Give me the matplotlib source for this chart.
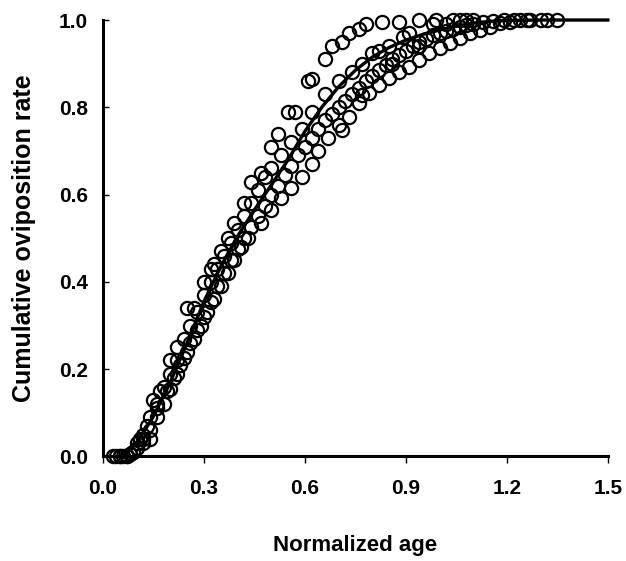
import matplotlib
matplotlib.use("Agg")
import matplotlib.pyplot as plt

plt.rcParams['font.family'] = ['Liberation Sans', 'DejaVu Sans']
plt.rcParams['font.weight'] = 'bold'

# fast-laying group
fast_x = [0.05, 0.07, 0.09, 0.11, 0.13, 0.15, 0.17, 0.20, 0.22, 0.25, 0.27, 0.30,
          0.32, 0.33, 0.35, 0.37, 0.39, 0.42, 0.44, 0.47, 0.50, 0.52, 0.55, 0.57,
          0.61, 0.62, 0.66, 0.68, 0.71, 0.73, 0.76, 0.78, 0.83, 0.88, 0.94, 0.99,
          1.04, 1.08]
fast_y = [0.00, 0.00, 0.01, 0.04, 0.07, 0.13, 0.15, 0.22, 0.25, 0.34, 0.34, 0.40,
          0.43, 0.44, 0.47, 0.50, 0.535, 0.58, 0.63, 0.65, 0.71, 0.74, 0.79, 0.79,
          0.86, 0.865, 0.91, 0.94, 0.95, 0.97, 0.98, 0.99, 0.995, 0.995, 1.00, 1.00,
          1.00, 1.00]

# middle group (above curve at the top)
mid_x = [0.04, 0.06, 0.08, 0.10, 0.12, 0.14, 0.16, 0.18, 0.20, 0.22, 0.24, 0.26,
         0.28, 0.30, 0.32, 0.34, 0.36, 0.38, 0.40, 0.42, 0.44, 0.46, 0.48, 0.50,
         0.53, 0.56, 0.59, 0.62, 0.66, 0.70, 0.74, 0.77, 0.80, 0.82, 0.85, 0.86,
         0.89, 0.91, 0.94, 0.98, 1.02, 1.06, 1.10]
mid_y = [0.00, 0.00, 0.005, 0.03, 0.05, 0.09, 0.12, 0.16, 0.19, 0.22, 0.27, 0.30,
         0.33, 0.37, 0.40, 0.43, 0.46, 0.49, 0.52, 0.55, 0.58, 0.61, 0.64, 0.66,
         0.69, 0.72, 0.75, 0.79, 0.83, 0.86, 0.88, 0.90, 0.925, 0.93, 0.94, 0.90,
         0.96, 0.97, 0.94, 0.99, 0.99, 1.00, 1.00]

# middle group (just below curve)
mid2_x = [0.05, 0.08, 0.10, 0.12, 0.14, 0.16, 0.18, 0.20, 0.22, 0.24, 0.26, 0.28,
          0.30, 0.32, 0.34, 0.36, 0.38, 0.40, 0.42, 0.44, 0.46, 0.48, 0.50, 0.52,
          0.54, 0.56, 0.58, 0.60, 0.62, 0.64, 0.66, 0.68, 0.70, 0.72, 0.74, 0.76,
          0.78, 0.80, 0.82, 0.84, 0.86, 0.88, 0.90, 0.92, 0.94, 0.96, 0.98, 1.00,
          1.02, 1.04, 1.06, 1.08, 1.10, 1.13, 1.16, 1.19, 1.22, 1.26]
mid2_y = [0.00, 0.005, 0.02, 0.04, 0.06, 0.09, 0.12, 0.155, 0.19, 0.225, 0.26, 0.29,
          0.32, 0.355, 0.39, 0.42, 0.45, 0.475, 0.50, 0.525, 0.55, 0.575, 0.60, 0.62,
          0.645, 0.665, 0.69, 0.71, 0.73, 0.75, 0.77, 0.785, 0.80, 0.815, 0.83, 0.845,
          0.86, 0.872, 0.885, 0.897, 0.91, 0.92, 0.93, 0.94, 0.95, 0.957, 0.965, 0.97,
          0.975, 0.98, 0.985, 0.988, 0.99, 0.995, 0.997, 1.00, 1.00, 1.00]

# slow group
slow_x = [0.03, 0.07, 0.09, 0.12, 0.14, 0.16, 0.19, 0.21, 0.23, 0.25, 0.27, 0.29,
          0.31, 0.33, 0.35, 0.37, 0.39, 0.41, 0.43, 0.47, 0.50, 0.53, 0.56, 0.59,
          0.62, 0.64, 0.67, 0.70, 0.71, 0.73, 0.76, 0.77, 0.79, 0.82, 0.85, 0.88,
          0.91, 0.94, 0.97, 1.00, 1.03, 1.06, 1.09, 1.12, 1.15, 1.18, 1.21, 1.24,
          1.27, 1.30, 1.32, 1.35]
slow_y = [0.00, 0.00, 0.01, 0.03, 0.04, 0.11, 0.15, 0.18, 0.21, 0.24, 0.27, 0.30,
          0.33, 0.36, 0.39, 0.42, 0.45, 0.48, 0.50, 0.535, 0.565, 0.592, 0.615, 0.64,
          0.67, 0.70, 0.73, 0.76, 0.748, 0.778, 0.81, 0.828, 0.833, 0.851, 0.867, 0.881,
          0.892, 0.908, 0.924, 0.936, 0.947, 0.959, 0.970, 0.977, 0.984, 0.993, 0.995, 1.00,
          1.00, 1.00, 1.00, 1.00]

# fitted curve
fit_x = [0.06, 0.10, 0.15, 0.20, 0.25, 0.30, 0.35, 0.40, 0.45, 0.50, 0.55, 0.60,
         0.65, 0.70, 0.75, 0.80, 0.85, 0.90, 0.95, 1.00, 1.05, 1.10, 1.15, 1.20,
         1.30, 1.50]
fit_y = [0.00, 0.03, 0.092, 0.17, 0.26, 0.355, 0.435, 0.505, 0.565, 0.622, 0.68, 0.745,
         0.80, 0.847, 0.885, 0.915, 0.937, 0.954, 0.967, 0.977, 0.986, 0.993, 0.997, 0.999,
         1.00, 1.00]

fig = plt.figure(figsize=(6.26, 5.61), dpi=100)
ax = fig.add_axes([0.1645, 0.1863, 0.8065, 0.778])

for xs, ys in [(fast_x, fast_y), (mid_x, mid_y), (mid2_x, mid2_y), (slow_x, slow_y)]:
    ax.plot(xs, ys, 'o', mfc='none', mec='black', ms=9.5, mew=1.6, clip_on=False)

ax.plot(fit_x, fit_y, '-', color='black', lw=2.4, clip_on=False)

ax.set_xlim(0, 1.5)
ax.set_ylim(0, 1.0)
ax.set_xticks([0.0, 0.3, 0.6, 0.9, 1.2, 1.5])
ax.set_yticks([0.0, 0.2, 0.4, 0.6, 0.8, 1.0])
ax.set_xticklabels(['0.0', '0.3', '0.6', '0.9', '1.2', '1.5'])
ax.set_yticklabels(['0.0', '0.2', '0.4', '0.6', '0.8', '1.0'])

for s in ['top', 'right']:
    ax.spines[s].set_visible(False)
for s in ['left', 'bottom']:
    ax.spines[s].set_linewidth(2.2)

ax.tick_params(axis='x', direction='out', length=5, width=1, pad=11, labelsize=15)
ax.tick_params(axis='y', direction='in', length=4, width=1, pad=11, labelsize=15)

ax.set_xlabel('Normalized age', fontsize=16, fontweight='bold', labelpad=27)
ax.set_ylabel('Cumulative oviposition rate', fontsize=18, fontweight='bold', labelpad=16)

fig.savefig('out.png', dpi=100)
